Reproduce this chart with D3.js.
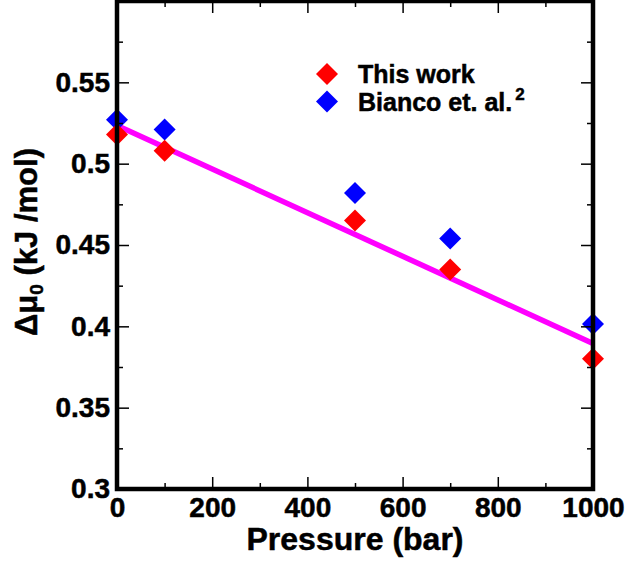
<!DOCTYPE html>
<html>
<head>
<meta charset="utf-8">
<script src="https://cdn.jsdelivr.net/npm/d3@7"></script>
<style>
  body { margin: 0; background: #fff; }
  svg { display: block; }
  text { font-family: "Liberation Sans", Arial, sans-serif; font-weight: bold; fill: #000; stroke: #000; stroke-width: 0.5px; }
</style>
</head>
<body>
<svg id="chart" width="626" height="562"></svg>
<script>
const pressure = [0, 100, 500, 700, 1000];
const thisWork = [0.518, 0.508, 0.465, 0.435, 0.380];
const bianco = [0.527, 0.521, 0.482, 0.454, 0.4015];
const fitX = [0, 1000];
const fitY = [0.5235, 0.3895];

const xMajor = [0, 200, 400, 600, 800, 1000];
const xMinor = [100, 300, 500, 700, 900];
const yMajor = [0.3, 0.35, 0.4, 0.45, 0.5, 0.55];
const yMinor = [0.325, 0.375, 0.425, 0.475, 0.525, 0.575];

const series = [
  { name: "This work", color: "#ff0000", values: thisWork },
  { name: "Bianco et. al.", sup: "2", color: "#0000ff", values: bianco },
];

const plot = { left: 117, right: 593, top: 1, bottom: 489 };
const svg = d3.select("#chart");

const x = d3.scaleLinear().domain([0, 1000]).range([plot.left, plot.right]);
const y = d3.scaleLinear().domain([0.3, 0.6]).range([plot.bottom, plot.top]);

// fit line
svg.append("path")
  .datum(fitX.map((d, i) => [d, fitY[i]]))
  .attr("fill", "none")
  .attr("stroke", "#ff00ff")
  .attr("stroke-width", 5.5)
  .attr("d", d3.line().x((d) => x(d[0])).y((d) => y(d[1])));

const diamond = d3.symbol().type(d3.symbolSquare).size(242);

// data points, blue first so red sits on top where they touch
[series[1], series[0]].forEach((s) => {
  svg.append("g")
    .selectAll("path")
    .data(s.values.map((v, i) => [pressure[i], v]))
    .join("path")
    .attr("d", diamond)
    .attr("fill", s.color)
    .attr("transform", (d) => `translate(${x(d[0])},${y(d[1])}) rotate(45)`);
});

function styleAxis(g, size) {
  g.select(".domain").remove();
  g.selectAll(".tick line").attr("stroke", "#000").attr("stroke-width", 1.5);
  g.selectAll(".tick text")
    .style("font-family", '"Liberation Sans", Arial, sans-serif')
    .style("font-weight", "bold")
    .style("font-size", size + "px")
    .attr("fill", "#000");
}

// bottom
svg.append("g").attr("transform", `translate(0,${plot.bottom})`)
  .call(d3.axisBottom(x).tickValues(xMajor).tickSize(-12).tickPadding(8).tickFormat(d3.format("d")))
  .call((g) => styleAxis(g, 28));
svg.append("g").attr("transform", `translate(0,${plot.bottom})`)
  .call(d3.axisBottom(x).tickValues(xMinor).tickSize(-6).tickFormat(""))
  .call((g) => styleAxis(g, 0));
// top
svg.append("g").attr("transform", `translate(0,${plot.top})`)
  .call(d3.axisTop(x).tickValues(xMajor).tickSize(-12).tickFormat(""))
  .call((g) => styleAxis(g, 0));
svg.append("g").attr("transform", `translate(0,${plot.top})`)
  .call(d3.axisTop(x).tickValues(xMinor).tickSize(-6).tickFormat(""))
  .call((g) => styleAxis(g, 0));
// left
svg.append("g").attr("transform", `translate(${plot.left},0)`)
  .call(d3.axisLeft(y).tickValues(yMajor).tickSize(-12).tickPadding(7).tickFormat((d) => String(d)))
  .call((g) => styleAxis(g, 28));
svg.append("g").attr("transform", `translate(${plot.left},0)`)
  .call(d3.axisLeft(y).tickValues(yMinor).tickSize(-6).tickFormat(""))
  .call((g) => styleAxis(g, 0));
// right
svg.append("g").attr("transform", `translate(${plot.right},0)`)
  .call(d3.axisRight(y).tickValues(yMajor).tickSize(-12).tickFormat(""))
  .call((g) => styleAxis(g, 0));
svg.append("g").attr("transform", `translate(${plot.right},0)`)
  .call(d3.axisRight(y).tickValues(yMinor).tickSize(-6).tickFormat(""))
  .call((g) => styleAxis(g, 0));

// frame
svg.append("rect")
  .attr("x", plot.left).attr("y", plot.top)
  .attr("width", plot.right - plot.left).attr("height", plot.bottom - plot.top)
  .attr("fill", "none").attr("stroke", "#000").attr("stroke-width", 4.5);

// legend
const legend = svg.append("g").attr("transform", "translate(327,74)");
const item = legend.selectAll("g")
  .data(series)
  .join("g")
  .attr("transform", (d, i) => `translate(0,${i * 27.5})`);
item.append("path")
  .attr("d", diamond)
  .attr("fill", (d) => d.color)
  .attr("transform", "rotate(45)");
const label = item.append("text")
  .attr("x", 31)
  .attr("y", 9)
  .style("font-size", "25px");
label.append("tspan").text((d) => d.name);
label.filter((d) => d.sup)
  .append("tspan")
  .attr("dx", 3)
  .attr("dy", -11)
  .style("font-size", "17px")
  .text((d) => d.sup);

// axis titles
svg.append("text")
  .attr("x", (plot.left + plot.right) / 2)
  .attr("y", 550)
  .attr("text-anchor", "middle")
  .style("font-size", "32px")
  .text("Pressure (bar)");

const yTitle = svg.append("text")
  .attr("transform", "translate(37,242) rotate(-90)")
  .attr("text-anchor", "middle")
  .style("font-size", "31px");
yTitle.append("tspan").text("Δμ");
yTitle.append("tspan").attr("dy", 6).style("font-size", "19px").text("0");
yTitle.append("tspan").attr("dy", -6).text(" (kJ /mol)");
</script>
</body>
</html>
